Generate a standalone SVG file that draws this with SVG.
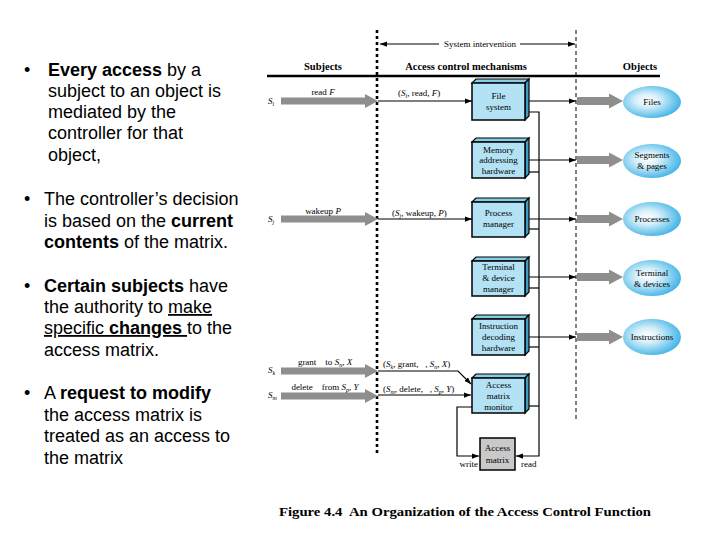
<svg xmlns="http://www.w3.org/2000/svg" width="720" height="540" viewBox="0 0 720 540">
<style>
.bt{font-family:"Liberation Sans",Arial,sans-serif;font-size:18px;fill:#000}
.b{font-weight:bold}
.u{text-decoration:underline}
.f{font-family:"Liberation Serif","Times New Roman",serif;font-size:9px;fill:#000;white-space:pre}
.h{font-family:"Liberation Serif","Times New Roman",serif;font-size:10.5px;font-weight:bold;fill:#000}
.c{text-anchor:middle}
.ln{stroke:#000;stroke-width:1.2;fill:none}
.front{fill:#b3e2f4;stroke:#000;stroke-width:1.5}
.top{fill:#86cde8;stroke:#000;stroke-width:1.2}
.side{fill:#3e9fc6;stroke:#000;stroke-width:1.2}
.ga{fill:#8e8e8e}
.obj{fill:url(#eg)}
</style>
<defs>
<radialGradient id="eg" cx="0.42" cy="0.45" r="0.6">
<stop offset="0" stop-color="#ffffff"/>
<stop offset="0.35" stop-color="#d4effa"/>
<stop offset="1" stop-color="#3db2e6"/>
</radialGradient>
<marker id="ah" viewBox="0 0 8 6" refX="8" refY="3" markerWidth="7" markerHeight="5.5" markerUnits="userSpaceOnUse" orient="auto">
<path d="M0,0 L8,3 L0,6 Z" fill="#000"/>
</marker>
<path id="gl" d="M0,-3.5 H84 V-7 L97,0 L84,7 V3.5 H0 Z"/>
<path id="gr" d="M0,-4 H32 V-7.5 L46,0 L32,7.5 V4 H0 Z"/>
</defs>

<!-- bullet text -->
<g id="bullets">
<text class="bt" x="24" y="76" font-size="15">•</text>
<text class="bt" x="48" y="76"><tspan class="b">Every access</tspan> by a</text>
<text class="bt" x="48" y="97">subject to an object is</text>
<text class="bt" x="48" y="118">mediated by the</text>
<text class="bt" x="48" y="139">controller for that</text>
<text class="bt" x="48" y="161">object,</text>

<text class="bt" x="24" y="205" font-size="15">•</text>
<text class="bt" x="44" y="205">The controller’s decision</text>
<text class="bt" x="44" y="227">is based on the <tspan class="b">current</tspan></text>
<text class="bt" x="44" y="248"><tspan class="b">contents</tspan> of the matrix.</text>

<text class="bt" x="24" y="292" font-size="15">•</text>
<text class="bt" x="44" y="292"><tspan class="b">Certain subjects</tspan> have</text>
<text class="bt" x="44" y="313">the authority to <tspan class="u">make</tspan></text>
<text class="bt" x="44" y="334"><tspan class="u">specific </tspan><tspan class="u b">changes </tspan>to the</text>
<text class="bt" x="44" y="356">access matrix.</text>

<text class="bt" x="24" y="399" font-size="15">•</text>
<text class="bt" x="44" y="399">A <tspan class="b">request to modify</tspan></text>
<text class="bt" x="44" y="421">the access matrix is</text>
<text class="bt" x="44" y="442">treated as an access to</text>
<text class="bt" x="44" y="464">the matrix</text>
</g>

<!-- frame lines and headers -->
<g id="frame">
<line x1="377" y1="30" x2="377" y2="454" stroke="#000" stroke-width="2.6" stroke-dasharray="3,3"/>
<line x1="576" y1="30" x2="576" y2="422" stroke="#000" stroke-width="1" stroke-dasharray="4,3"/>
<line x1="267" y1="76" x2="660" y2="76" stroke="#000" stroke-width="2.5"/>
<line class="ln" x1="439" y1="44" x2="380" y2="44" marker-end="url(#ah)"/>
<line class="ln" x1="520" y1="44" x2="575" y2="44" marker-end="url(#ah)"/>
<text class="f c" x="480" y="47">System intervention</text>
<text class="h c" x="323" y="70">Subjects</text>
<text class="h c" x="466" y="70">Access control mechanisms</text>
<text class="h c" x="640" y="70">Objects</text>
</g>

<!-- connectors -->
<g id="connectors">
<use href="#gl" x="281" y="101" class="ga"/>
<use href="#gl" x="281" y="219" class="ga"/>
<use href="#gl" x="281" y="371" class="ga"/>
<use href="#gl" x="281" y="396" class="ga"/>
<use href="#gr" x="577" y="101" class="ga"/>
<use href="#gr" x="577" y="160" class="ga"/>
<use href="#gr" x="577" y="219" class="ga"/>
<use href="#gr" x="577" y="277" class="ga"/>
<use href="#gr" x="577" y="337" class="ga"/>

<line class="ln" x1="378" y1="101" x2="472" y2="101" marker-end="url(#ah)"/>
<line class="ln" x1="378" y1="219" x2="472" y2="219" marker-end="url(#ah)"/>
<polyline class="ln" points="378,371 458,371 471,384" marker-end="url(#ah)"/>
<line class="ln" x1="378" y1="395" x2="471" y2="395" marker-end="url(#ah)"/>

<line class="ln" x1="525" y1="101" x2="576" y2="101" marker-end="url(#ah)"/>
<line class="ln" x1="525" y1="160" x2="576" y2="160" marker-end="url(#ah)"/>
<line class="ln" x1="525" y1="219" x2="576" y2="219" marker-end="url(#ah)"/>
<line class="ln" x1="525" y1="277" x2="576" y2="277" marker-end="url(#ah)"/>
<line class="ln" x1="525" y1="337" x2="576" y2="337" marker-end="url(#ah)"/>

<polyline class="ln" points="527,112 539,112 539,456 516,456" marker-end="url(#ah)"/>
<line class="ln" x1="527" y1="172" x2="539" y2="172"/>
<line class="ln" x1="527" y1="229" x2="539" y2="229"/>
<line class="ln" x1="527" y1="288" x2="539" y2="288"/>
<line class="ln" x1="527" y1="347" x2="539" y2="347"/>
<line class="ln" x1="527" y1="406" x2="539" y2="406"/>
<polyline class="ln" points="472,407 457,407 457,456 479,456" marker-end="url(#ah)"/>

<text class="f" x="268" y="104" font-style="italic">S<tspan font-size="6" dy="2">i</tspan></text>
<text class="f" x="268" y="222" font-style="italic">S<tspan font-size="6" dy="2">j</tspan></text>
<text class="f" x="268" y="373" font-style="italic">S<tspan font-size="6" dy="2">k</tspan></text>
<text class="f" x="268" y="398" font-style="italic">S<tspan font-size="6" dy="2">m</tspan></text>

<text class="f c" x="323" y="95">read <tspan font-style="italic">F</tspan></text>
<text class="f c" x="323" y="214">wakeup <tspan font-style="italic">P</tspan></text>
<text class="f c" x="325" y="365">grant    to <tspan font-style="italic">S</tspan><tspan font-size="6" dy="2" font-style="italic">n</tspan><tspan dy="-2">, </tspan><tspan font-style="italic">X</tspan></text>
<text class="f c" x="325" y="390">delete    from <tspan font-style="italic">S</tspan><tspan font-size="6" dy="2" font-style="italic">p</tspan><tspan dy="-2">, </tspan><tspan font-style="italic">Y</tspan></text>

<text class="f" x="398" y="96">(<tspan font-style="italic">S</tspan><tspan font-size="6" dy="2" font-style="italic">i</tspan><tspan dy="-2">, read, </tspan><tspan font-style="italic">F</tspan>)</text>
<text class="f" x="392" y="216">(<tspan font-style="italic">S</tspan><tspan font-size="6" dy="2" font-style="italic">j</tspan><tspan dy="-2">, wakeup, </tspan><tspan font-style="italic">P</tspan>)</text>
<text class="f" x="383" y="367">(<tspan font-style="italic">S</tspan><tspan font-size="6" dy="2" font-style="italic">k</tspan><tspan dy="-2">, grant,   , </tspan><tspan font-style="italic">S</tspan><tspan font-size="6" dy="2" font-style="italic">n</tspan><tspan dy="-2">, </tspan><tspan font-style="italic">X</tspan>)</text>
<text class="f" x="383" y="392">(<tspan font-style="italic">S</tspan><tspan font-size="6" dy="2" font-style="italic">m</tspan><tspan dy="-2">, delete,   , </tspan><tspan font-style="italic">S</tspan><tspan font-size="6" dy="2" font-style="italic">p</tspan><tspan dy="-2">, </tspan><tspan font-style="italic">Y</tspan>)</text>

<text class="f" x="478" y="467" text-anchor="end">write</text>
<text class="f" x="521" y="467">read</text>
</g>

<!-- boxes -->
<g id="file-system">
<polygon class="top" points="472,83 476,79 529,79 525,83"/>
<polygon class="side" points="525,83 529,79 529,116 525,120"/>
<rect class="front" x="472" y="83" width="53" height="37"/>
<text class="f c" x="498.5" y="99">File</text>
<text class="f c" x="498.5" y="110">system</text>
</g>
<g id="memory">
<polygon class="top" points="472,142 476,138 529,138 525,142"/>
<polygon class="side" points="525,142 529,138 529,174 525,178"/>
<rect class="front" x="472" y="142" width="53" height="36"/>
<text class="f c" x="498.5" y="153">Memory</text>
<text class="f c" x="498.5" y="163">addressing</text>
<text class="f c" x="498.5" y="174">hardware</text>
</g>
<g id="process-manager">
<polygon class="top" points="472,202 476,198 529,198 525,202"/>
<polygon class="side" points="525,202 529,198 529,233 525,237"/>
<rect class="front" x="472" y="202" width="53" height="35"/>
<text class="f c" x="498.5" y="216">Process</text>
<text class="f c" x="498.5" y="227">manager</text>
</g>
<g id="terminal-manager">
<polygon class="top" points="472,261 476,257 529,257 525,261"/>
<polygon class="side" points="525,261 529,257 529,292 525,296"/>
<rect class="front" x="472" y="261" width="53" height="35"/>
<text class="f c" x="498.5" y="270">Terminal</text>
<text class="f c" x="498.5" y="281">&amp; device</text>
<text class="f c" x="498.5" y="292">manager</text>
</g>
<g id="instruction">
<polygon class="top" points="472,319 476,315 529,315 525,319"/>
<polygon class="side" points="525,319 529,315 529,351 525,355"/>
<rect class="front" x="472" y="319" width="53" height="36"/>
<text class="f c" x="498.5" y="329">Instruction</text>
<text class="f c" x="498.5" y="340">decoding</text>
<text class="f c" x="498.5" y="351">hardware</text>
</g>
<g id="monitor">
<polygon class="top" points="472,378 476,374 529,374 525,378"/>
<polygon class="side" points="525,378 529,374 529,409 525,413"/>
<rect class="front" x="472" y="378" width="53" height="35"/>
<text class="f c" x="498.5" y="388">Access</text>
<text class="f c" x="498.5" y="399">matrix</text>
<text class="f c" x="498.5" y="410">monitor</text>
</g>
<g id="access-matrix">
<rect x="480" y="438" width="35" height="32" fill="#c9c9c9" stroke="#000" stroke-width="1.5"/>
<text class="f c" x="497.5" y="451">Access</text>
<text class="f c" x="497.5" y="463">matrix</text>
</g>

<!-- objects -->
<g id="files">
<ellipse class="obj" cx="652" cy="102" rx="29" ry="16"/>
<text class="f c" x="652" y="105">Files</text>
</g>
<g id="segments">
<ellipse class="obj" cx="652" cy="161" rx="29" ry="17"/>
<text class="f c" x="652" y="158">Segments</text>
<text class="f c" x="652" y="169">&amp; pages</text>
</g>
<g id="processes">
<ellipse class="obj" cx="652" cy="219" rx="29" ry="17"/>
<text class="f c" x="652" y="222">Processes</text>
</g>
<g id="terminals">
<ellipse class="obj" cx="652" cy="278" rx="29" ry="18"/>
<text class="f c" x="652" y="276">Terminal</text>
<text class="f c" x="652" y="287">&amp; devices</text>
</g>
<g id="instructions">
<ellipse class="obj" cx="652" cy="337" rx="29" ry="18"/>
<text class="f c" x="652" y="340">Instructions</text>
</g>

<text x="279" y="516" font-family="'Liberation Serif','Times New Roman',serif" font-size="13.5" font-weight="bold" textLength="372" lengthAdjust="spacingAndGlyphs" style="white-space:pre">Figure 4.4  An Organization of the Access Control Function</text>
</svg>
